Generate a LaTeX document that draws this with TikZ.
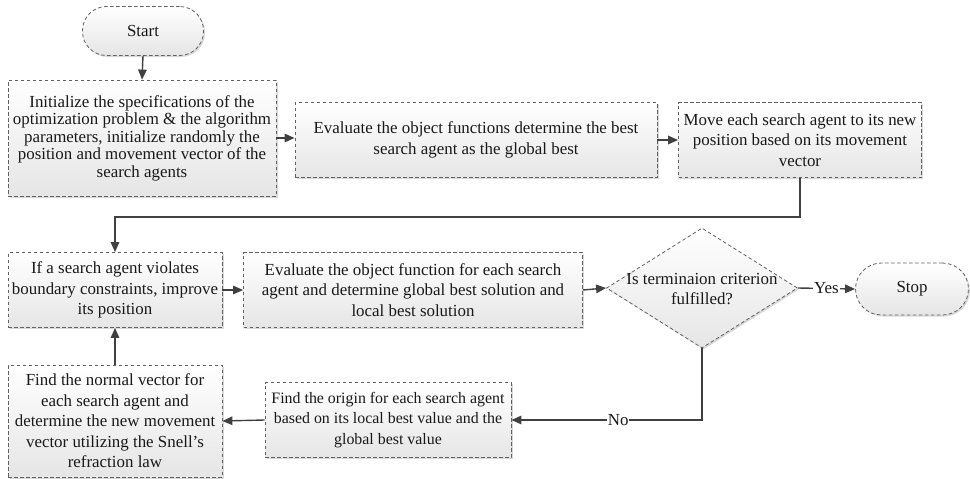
\documentclass[tikz,border=0pt]{standalone}
\usepackage{fontspec}
\setmainfont{Liberation Serif}
\usetikzlibrary{shapes.geometric,arrows.meta,shadows}
\begin{document}
\begin{tikzpicture}[x=1pt,y=-1pt,
  every node/.style={font=\fontsize{16.9}{20.5}\selectfont, text=black!90},
  proc/.style={draw=black!62, dashed, dash pattern=on 3.5pt off 2.5pt, line width=0.8pt,
    top color=white, bottom color=black!10, align=center, inner sep=1pt,
    drop shadow={shadow xshift=1.5pt, shadow yshift=-1.5pt, fill=black!30, opacity=0.5}},
  term/.style={proc, rounded corners=24pt},
  dia/.style={proc, diamond, inner sep=0pt},
  arr/.style={draw=black!75, line width=1.4pt, -{Triangle[length=10pt,width=8.5pt]}},
  lbl/.style={fill=white, inner sep=1pt}]
\useasboundingbox (0,0) rectangle (970,479);

\node[term, minimum width=121pt, minimum height=49pt] (start) at (143,31) {Start};
\node[proc, minimum width=268pt, minimum height=116pt,
  font=\fontsize{16.9}{17.5}\selectfont] (b1) at (142,138)
  {Initialize the specifications of the\\optimization problem \& the algorithm\\parameters, initialize randomly the\\position and movement vector of the\\search agents};
\node[proc, minimum width=362pt, minimum height=75pt] (b2) at (476,140)
  {Evaluate the object functions determine the best\\search agent as the global best};
\node[proc, minimum width=243pt, minimum height=75pt] (b3) at (800,140)
  {Move each search agent to its new\\position based on its movement\\vector};
\node[proc, minimum width=214pt, minimum height=75pt] (b4) at (115,290)
  {If a search agent violates\\boundary constraints, improve\\its position};
\node[proc, minimum width=339pt, minimum height=75pt] (b5) at (413,290)
  {Evaluate the object function for each search\\agent and determine global best solution and\\local best solution};
\node[dia, minimum width=191pt, minimum height=120pt] (d) at (702,288) {};
\node[align=center] (dt) at (702,289) {Is terminaion criterion\\fulfilled?};
\node[term, rounded corners=26pt, minimum width=113pt, minimum height=52pt] (stop) at (912,289) {Stop};
\node[proc, minimum width=246pt, minimum height=75pt,
  font=\fontsize{15.9}{20.5}\selectfont] (b6) at (388,420)
  {Find the origin for each search agent\\based on its local best value and the\\global best value};
\node[proc, minimum width=214pt, minimum height=112pt] (b7) at (115,421)
  {Find the normal vector for\\each search agent and\\determine the new movement\\vector utilizing the Snell's\\refraction law};

\draw[arr] (start.south) -- (b1.north);
\draw[arr] (b1.east) -- (b1.east -| b2.west);
\draw[arr] (b2.east) -- (b3.west);
\draw[arr] (b3.south) -- ++(0,39) -| (b4.north);
\draw[arr] (b4.east) -- (b5.west);
\draw[arr] (b5.east) -- (d.west);
\draw[arr] (d.east) -- node[lbl]{Yes} (stop.west);
\draw[arr] (d.south) |- node[lbl, pos=0.72]{No} (b6.east);
\draw[arr] (b6.west) -- (b7.east);
\draw[arr] (b7.north) -- (b4.south);
\end{tikzpicture}
\end{document}
